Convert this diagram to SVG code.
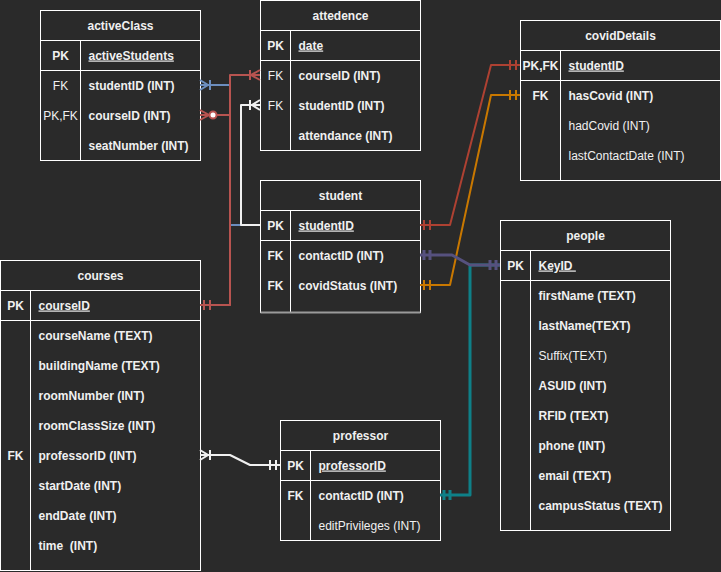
<svg xmlns="http://www.w3.org/2000/svg" width="721" height="572" viewBox="0 0 721 572">
<style>
text{font-family:"Liberation Sans",Arial,sans-serif;font-size:12px;fill:#f0f0f0;}
.b{font-weight:bold;}
.m{text-anchor:middle;}
.u{text-decoration:underline;}
.pre{white-space:pre;}
.box{fill:#2a2a2a;stroke:#ffffff;stroke-width:1;}
.ln{stroke:#ffffff;stroke-width:1;fill:none;}
.c{fill:none;stroke-linejoin:round;}
</style>
<defs>
<marker id="one-red" markerUnits="userSpaceOnUse" markerWidth="20" markerHeight="20" refX="0" refY="0" orient="auto-start-reverse" overflow="visible"><path d="M-4,-5V5M-10,-5V5" stroke="#b85450" stroke-width="2" fill="none"/></marker>
<marker id="many-red" markerUnits="userSpaceOnUse" markerWidth="20" markerHeight="20" refX="0" refY="0" orient="auto-start-reverse" overflow="visible"><path d="M0,-5L-9,0L0,5M-10,-5V5" stroke="#b85450" stroke-width="2" fill="none"/></marker>
<marker id="zmany-red" markerUnits="userSpaceOnUse" markerWidth="20" markerHeight="20" refX="0" refY="0" orient="auto-start-reverse" overflow="visible"><path d="M0,-5L-9,0L0,5" stroke="#b85450" stroke-width="2" fill="none"/><circle cx="-13" cy="0" r="3.5" fill="#ffffff" stroke="#b85450" stroke-width="2"/></marker>
<marker id="many-blue" markerUnits="userSpaceOnUse" markerWidth="20" markerHeight="20" refX="0" refY="0" orient="auto-start-reverse" overflow="visible"><path d="M0,-5L-8,0L0,5M-10,-5V5" stroke="#6c8ebf" stroke-width="2" fill="none"/></marker>
<marker id="many-white" markerUnits="userSpaceOnUse" markerWidth="20" markerHeight="20" refX="0" refY="0" orient="auto-start-reverse" overflow="visible"><path d="M0,-5L-8,0L0,5M-10,-5V5" stroke="#f0f0f0" stroke-width="2" fill="none"/></marker>
<marker id="one-white" markerUnits="userSpaceOnUse" markerWidth="20" markerHeight="20" refX="0" refY="0" orient="auto-start-reverse" overflow="visible"><path d="M-4,-5V5M-10,-5V5" stroke="#f0f0f0" stroke-width="2" fill="none"/></marker>
<marker id="one-brown" markerUnits="userSpaceOnUse" markerWidth="20" markerHeight="20" refX="0" refY="0" orient="auto-start-reverse" overflow="visible"><path d="M-4,-5V5M-10,-5V5" stroke="#ae4132" stroke-width="2" fill="none"/></marker>
<marker id="one-orange" markerUnits="userSpaceOnUse" markerWidth="20" markerHeight="20" refX="0" refY="0" orient="auto-start-reverse" overflow="visible"><path d="M-4,-5V5M-10,-5V5" stroke="#c97800" stroke-width="2" fill="none"/></marker>
<marker id="one-purple" markerUnits="userSpaceOnUse" markerWidth="20" markerHeight="20" refX="0" refY="0" orient="auto-start-reverse" overflow="visible"><path d="M-4,-5V5M-10,-5V5" stroke="#56517e" stroke-width="3" fill="none"/></marker>
<marker id="one-teal" markerUnits="userSpaceOnUse" markerWidth="20" markerHeight="20" refX="0" refY="0" orient="auto-start-reverse" overflow="visible"><path d="M-4,-5V5M-10,-5V5" stroke="#0e8088" stroke-width="3" fill="none"/></marker>
</defs>
<rect x="0" y="0" width="721" height="572" fill="#2a2a2a"/>
<g transform="translate(0.5,0.5)">
<g id="activeClass">
<rect class="box" x="40" y="10" width="160" height="150"/>
<path class="ln" d="M40,40H200M40,70H200M80,40V160"/>
<text class="b m" x="120" y="29">activeClass</text>
<text class="b m" x="60" y="59">PK</text><text class="b u" x="88" y="59">activeStudents</text>
<text class="m" x="60" y="89">FK</text><text class="b" x="88" y="89">studentID (INT)</text>
<text class="m" x="60" y="119">PK,FK</text><text class="b" x="88" y="119">courseID (INT)</text>
<text class="b" x="88" y="149">seatNumber (INT)</text>
</g>
<g id="attedence">
<rect class="box" x="260" y="0" width="160" height="150"/>
<path class="ln" d="M260,30H420M260,60H420M290,30V150"/>
<text class="b m" x="340" y="19">attedence</text>
<text class="b m" x="275" y="49">PK</text><text class="b u" x="298" y="49">date</text>
<text class="m" x="275" y="79">FK</text><text class="b" x="298" y="79">courseID (INT)</text>
<text class="m" x="275" y="109">FK</text><text class="b" x="298" y="109">studentID (INT)</text>
<text class="b" x="298" y="139">attendance (INT)</text>
</g>
<g id="covidDetails">
<rect class="box" x="520" y="20" width="200" height="160"/>
<path class="ln" d="M520,50H720M520,80H720M560,50V180"/>
<text class="b m" x="620" y="39">covidDetails</text>
<text class="b m" x="540" y="69">PK,FK</text><text class="b u" x="568" y="69">studentID</text>
<text class="b m" x="540" y="99">FK</text><text class="b" x="568" y="99">hasCovid (INT)</text>
<text x="568" y="129">hadCovid (INT)</text>
<text x="568" y="159">lastContactDate (INT)</text>
</g>
<g id="student">
<rect class="box" x="260" y="180" width="160" height="132"/>
<path class="ln" d="M260,210H420M260,240H420M290,210V312"/>
<path d="M260,312H420" stroke="#9a9a9a" stroke-width="2" fill="none"/>
<text class="b m" x="340" y="199">student</text>
<text class="b m" x="275" y="229">PK</text><text class="b u" x="298" y="229">studentID</text>
<text class="b m" x="275" y="259">FK</text><text class="b" x="298" y="259">contactID (INT)</text>
<text class="b m" x="275" y="289">FK</text><text class="b" x="298" y="289">covidStatus (INT)</text>
</g>
<g id="people">
<rect class="box" x="500" y="220" width="170" height="310"/>
<path class="ln" d="M500,250H670M500,280H670M530,250V530"/>
<text class="b m" x="585" y="239">people</text>
<text class="b m" x="515" y="269">PK</text><text class="b u pre" x="538" y="269">KeyID </text>
<text class="b" x="538" y="299">firstName (TEXT)</text>
<text class="b" x="538" y="329">lastName(TEXT)</text>
<text x="538" y="359">Suffix(TEXT)</text>
<text class="b" x="538" y="389">ASUID (INT)</text>
<text class="b" x="538" y="419">RFID (TEXT)</text>
<text class="b" x="538" y="449">phone (INT)</text>
<text class="b" x="538" y="479">email (TEXT)</text>
<text class="b" x="538" y="509">campusStatus (TEXT)</text>
</g>
<g id="courses">
<rect class="box" x="0" y="260" width="200" height="310"/>
<path class="ln" d="M0,290H200M0,320H200M30,290V570"/>
<text class="b m" x="100" y="279">courses</text>
<text class="b m" x="15" y="309">PK</text><text class="b u" x="38" y="309">courseID</text>
<text class="b" x="38" y="339">courseName (TEXT)</text>
<text class="b" x="38" y="369">buildingName (TEXT)</text>
<text class="b" x="38" y="399">roomNumber (INT)</text>
<text class="b" x="38" y="429">roomClassSize (INT)</text>
<text class="b m" x="15" y="459">FK</text><text class="b" x="38" y="459">professorID (INT)</text>
<text class="b" x="38" y="489">startDate (INT)</text>
<text class="b" x="38" y="519">endDate (INT)</text>
<text class="b pre" x="38" y="549">time  (INT)</text>
</g>
<g id="professor">
<rect class="box" x="280" y="420" width="160" height="120"/>
<path class="ln" d="M280,450H440M280,480H440M310,450V540"/>
<text class="b m" x="360" y="439">professor</text>
<text class="b m" x="295" y="469">PK</text><text class="b u" x="318" y="469">professorID</text>
<text class="b m" x="295" y="499">FK</text><text class="b" x="318" y="499">contactID (INT)</text>
<text x="318" y="529">editPrivileges (INT)</text>
</g>
</g>
<g id="connectors">
<path class="c" d="M260,225H230V85H200" stroke="#6c8ebf" stroke-width="2" marker-end="url(#many-blue)"/>
<path class="c" d="M260,225H241V105H260" stroke="#f0f0f0" stroke-width="2" marker-end="url(#many-white)"/>
<path class="c" d="M200,305H230V115H200" stroke="#b85450" stroke-width="2" marker-start="url(#one-red)" marker-end="url(#zmany-red)"/>
<path class="c" d="M200,305H230V75H260" stroke="#b85450" stroke-width="2" marker-end="url(#many-red)"/>
<path class="c" d="M420,225H450L491,65H520" stroke="#ae4132" stroke-width="2" marker-start="url(#one-brown)" marker-end="url(#one-brown)"/>
<path class="c" d="M420,285H450L491,95H520" stroke="#c97800" stroke-width="2" marker-start="url(#one-orange)" marker-end="url(#one-orange)"/>
<path class="c" d="M440,495H470V265H500" stroke="#0e8088" stroke-width="3" marker-start="url(#one-teal)"/>
<path class="c" d="M420,255H452L470,265H500" stroke="#56517e" stroke-width="3" marker-start="url(#one-purple)" marker-end="url(#one-purple)"/>
<path class="c" d="M200,455H230L250,465H280" stroke="#f0f0f0" stroke-width="2" marker-start="url(#many-white)" marker-end="url(#one-white)"/>
</g>
</svg>
